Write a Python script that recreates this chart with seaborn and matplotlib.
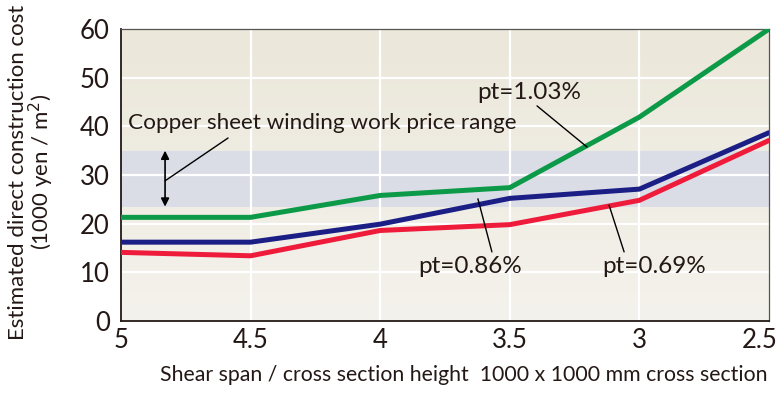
import numpy as np
import pandas as pd
import matplotlib as mpl
mpl.use("Agg")
import matplotlib.pyplot as plt
import matplotlib.transforms as mtrans
import seaborn as sns

# shear span / cross section height (x axis runs from 5 down to 2.5)
span_ratio = [5, 4.5, 4, 3.5, 3, 2.5]
cost_103 = [21.3, 21.3, 25.8, 27.4, 41.9, 60.0]
cost_086 = [16.2, 16.2, 19.9, 25.2, 27.1, 38.7]
cost_069 = [14.1, 13.4, 18.6, 19.8, 24.8, 37.1]
series_names = ["pt=1.03%", "pt=0.86%", "pt=0.69%"]
band_low, band_high = 23.5, 35

df = pd.DataFrame({
    "ratio": span_ratio * 3,
    "cost": cost_103 + cost_086 + cost_069,
    "pt": sum([[n] * len(span_ratio) for n in series_names], []),
})

sns.set_style("white")
plt.rcParams["font.family"] = ["Lato", "DejaVu Sans"]
txt_col = "#231815"

fig, ax = plt.subplots(figsize=(7.81, 3.94), dpi=100)
fig.subplots_adjust(left=121/781, right=769/781, top=1 - 29/394, bottom=1 - 321/394)

# soft vertical gradient behind the plot
grad = np.linspace(0, 1, 100).reshape(-1, 1)
top_c = np.array(mpl.colors.to_rgb("#EBE7DA"))
bot_c = np.array(mpl.colors.to_rgb("#F4F2EC"))
img = top_c + (bot_c - top_c) * grad[..., None]
ax.imshow(img, extent=(5, 2.5, 0, 60), aspect="auto", zorder=0, origin="upper")
ax.axhspan(band_low, band_high, color="#DADCE6", zorder=0.5, lw=0)

for v in [4.5, 4, 3.5, 3]:
    ax.axvline(v, color="white", lw=1.6, zorder=1)
for v in [10, 20, 30, 40, 50]:
    ax.axhline(v, color="white", lw=1.6, zorder=1)

palette = {"pt=1.03%": "#0C9A48", "pt=0.86%": "#1B1F85", "pt=0.69%": "#EE1B3B"}
sns.lineplot(data=df, x="ratio", y="cost", hue="pt", palette=palette,
             linewidth=3.6, legend=False, ax=ax, zorder=3)

ax.set_xlim(5, 2.5)
ax.set_ylim(0, 60)
ax.set_xticks(span_ratio)
ax.set_xticklabels(["5", "4.5", "4", "3.5", "3", "2.5"])
ax.set_yticks([0, 10, 20, 30, 40, 50, 60])
for lab in ax.get_xticklabels() + ax.get_yticklabels():
    lab.set_fontsize(18.5)
    lab.set_color(txt_col)
ax.tick_params(axis="x", length=0, pad=5)
ax.tick_params(axis="y", length=0, pad=8)
# last x label is pulled in so it stays inside the figure
last = ax.get_xticklabels()[-1]
last.set_transform(last.get_transform() + mtrans.ScaledTranslation(-9/100, 0, fig.dpi_scale_trans))

for s in ["left", "bottom"]:
    ax.spines[s].set_color("#231815")
    ax.spines[s].set_linewidth(1.3)
for s in ["top", "right"]:
    ax.spines[s].set_color("#555555")
    ax.spines[s].set_linewidth(0.9)

ax.set_xlabel("Shear span / cross section height  1000 x 1000 mm cross section",
              fontsize=15.3, color=txt_col)
ax.xaxis.set_label_coords(0.529, -0.15)
ax.set_ylabel("Estimated direct construction cost\n(1000 yen / m$^2$)",
              fontsize=16, color=txt_col, linespacing=0.95)
ax.yaxis.set_label_coords(-0.1, 0.51)

# price range annotation
ax.annotate("", xy=(4.83, band_high), xytext=(4.83, band_low),
            arrowprops=dict(arrowstyle="<|-|>", color="black", lw=1.2,
                            mutation_scale=12, shrinkA=0, shrinkB=0), zorder=5)
ax.plot([4.83, 4.587], [28.8, 37.6], color="black", lw=1, zorder=5)
ax.text(4.973, 40.7, "Copper sheet winding work price range", fontsize=16.2,
        color=txt_col, ha="left", va="center", zorder=6)

# series labels with leader lines
ax.plot([3.395, 3.202], [44.2, 35.75], color="black", lw=1, zorder=5)
ax.text(3.426, 47.0, "pt=1.03%", fontsize=17.5, color=txt_col, ha="center", va="center")
ax.plot([3.623, 3.569], [25.1, 14.2], color="black", lw=1, zorder=5)
ax.text(3.653, 11.1, "pt=0.86%", fontsize=17.5, color=txt_col, ha="center", va="center")
ax.plot([3.117, 3.059], [23.8, 14.2], color="black", lw=1, zorder=5)
ax.text(2.944, 11.1, "pt=0.69%", fontsize=17.5, color=txt_col, ha="center", va="center")

fig.savefig("out.png", dpi=100)
